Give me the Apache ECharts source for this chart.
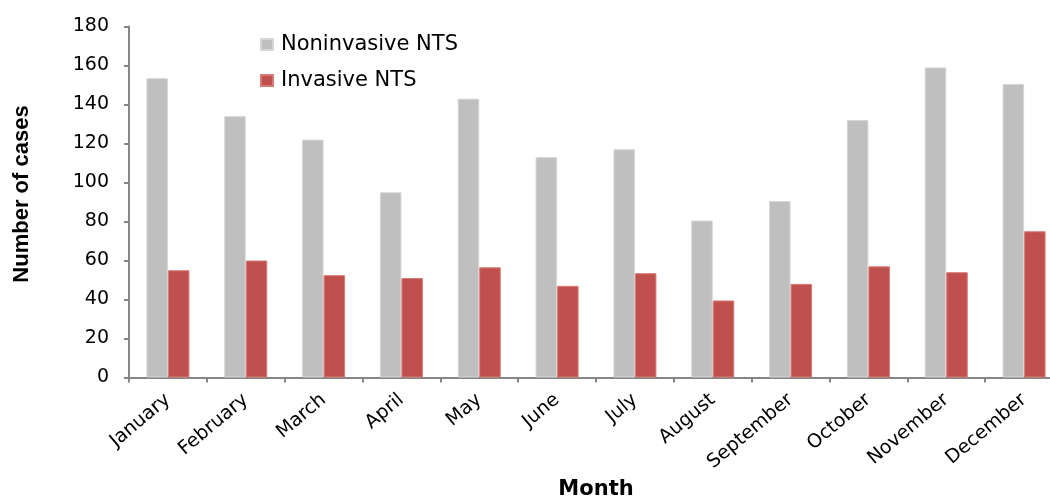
<!DOCTYPE html>
<html>
<head>
<meta charset="utf-8">
<script src="https://cdn.jsdelivr.net/npm/echarts@6/dist/echarts.min.js"></script>
<style>html,body{margin:0;padding:0;background:#fff;}#c{width:1050px;height:496px;}</style>
</head>
<body>
<div id="c"></div>
<script>
const months = ['January','February','March','April','May','June','July','August','September','October','November','December'];
const noninvasive = [153.5, 134, 122, 95, 143, 113, 117, 80.5, 90.5, 132, 159, 150.5];
const invasive = [55, 60, 52.5, 51, 56.5, 47, 53.5, 39.5, 48, 57, 54, 75];
const yTicks = [0, 20, 40, 60, 80, 100, 120, 140, 160, 180];

const WIDE = '"DejaVu Sans", "Liberation Sans", Arial, sans-serif';
const NARROW = '"Liberation Sans", Arial, sans-serif';
const chart = echarts.init(document.getElementById('c'), null, {renderer: 'canvas'});
chart.setOption({
  animation: false,
  textStyle: {fontFamily: WIDE},
  legend: {
    orient: 'vertical', left: 255, top: 29,
    itemWidth: 12, itemHeight: 11, itemGap: 15,
    icon: 'rect',
    textStyle: {fontFamily: WIDE, fontSize: 21, color: '#000', padding: [0, 0, 0, 3]},
    data: ['Noninvasive NTS', 'Invasive NTS']
  },
  grid: {left: 129, right: -13, top: 26.5, bottom: 118.5, outerBoundsMode: 'none', containLabel: false},
  xAxis: {
    type: 'category', data: months,
    name: 'Month', nameLocation: 'middle', nameGap: 100,
    nameTextStyle: {fontFamily: '"DejaVu Sans", sans-serif', fontSize: 21, fontWeight: 'bold', color: '#000'},
    axisLine: {lineStyle: {color: '#868686', width: 2}},
    axisTick: {show: true, length: 5, lineStyle: {color: '#868686', width: 2}},
    axisLabel: {rotate: 40, fontFamily: WIDE, fontSize: 19, color: '#000', margin: 20, interval: 0}
  },
  yAxis: {
    type: 'value', min: yTicks[0], max: yTicks[yTicks.length - 1], interval: 20,
    name: 'Number of cases', nameLocation: 'middle', nameGap: 96, nameRotate: 90,
    nameTextStyle: {fontFamily: NARROW, fontSize: 22, fontWeight: 'bold', color: '#000', padding: [0, 0, 0, 16]},
    axisLine: {show: true, lineStyle: {color: '#868686', width: 2}},
    axisTick: {show: true, length: 5, lineStyle: {color: '#868686', width: 2}},
    splitLine: {show: false},
    axisLabel: {fontFamily: WIDE, fontSize: 19, color: '#000', margin: 20}
  },
  series: [
    {
      name: 'Noninvasive NTS', type: 'bar', data: noninvasive,
      barWidth: 21.5, barGap: '0%',
      itemStyle: {color: '#BFBFBF', borderColor: '#D6D6D6', borderWidth: 1}
    },
    {
      name: 'Invasive NTS', type: 'bar', data: invasive,
      barWidth: 21.5, barGap: '0%',
      itemStyle: {color: '#C0504D', borderColor: '#D77A77', borderWidth: 1}
    }
  ]
});
</script>
</body>
</html>
